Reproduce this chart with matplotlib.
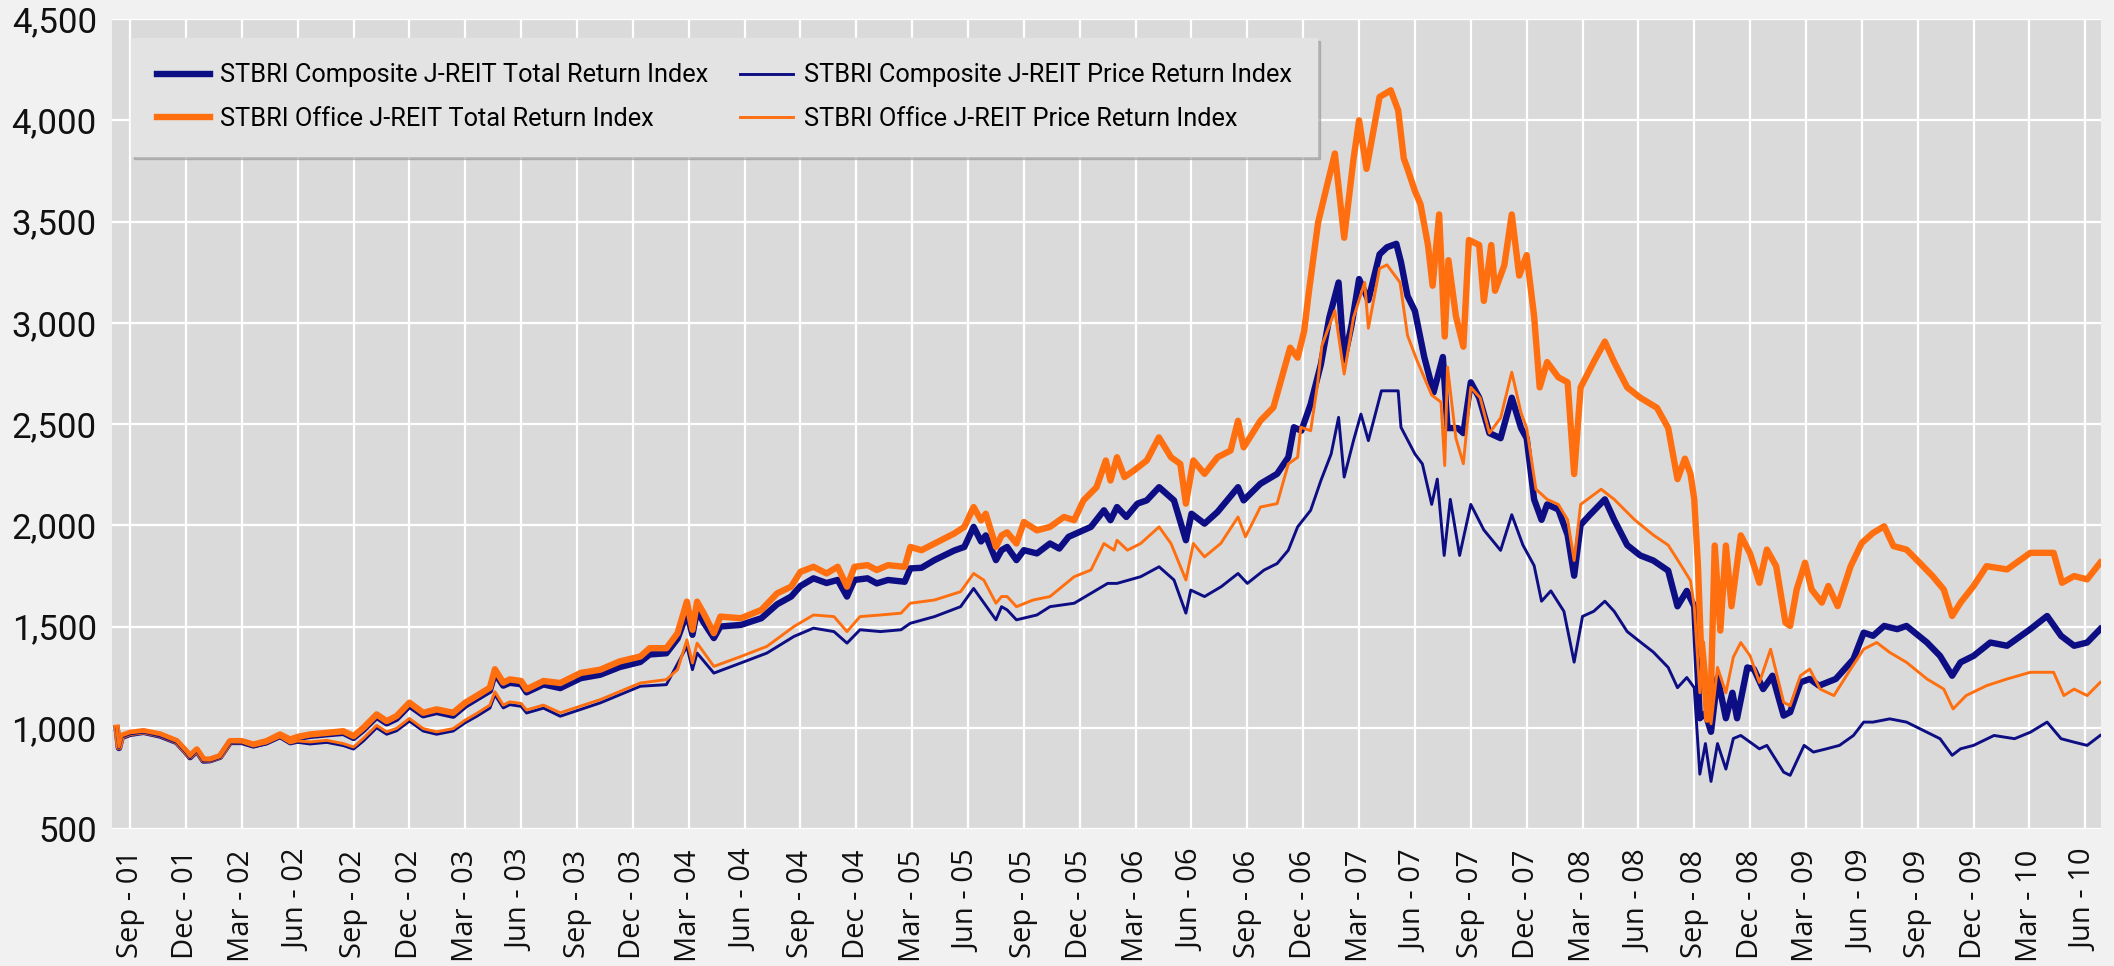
import matplotlib
matplotlib.use("Agg")
import matplotlib.pyplot as plt
from matplotlib.ticker import FuncFormatter

NAVY = "#0e0e84"
ORANGE = "#ff6f10"

# x = months after Sep 2001 (0 = Sep-01 gridline), y = index level
comp_total = [
    (-0.72, 995), (-0.6, 900), (-0.45, 955), (0, 970), (0.72, 980), (1.61, 962),
    (2.5, 930), (3.0, 880), (3.22, 855), (3.58, 888), (3.94, 838), (4.29, 840),
    (4.83, 857), (5.37, 930), (6.0, 930), (6.62, 913), (7.33, 930), (8.05, 962),
    (8.59, 938), (9.0, 950), (9.66, 960), (10.56, 968), (11.45, 975), (12.0, 950),
    (12.53, 990), (13.24, 1055), (13.78, 1022), (14.31, 1045), (15.0, 1110),
    (15.74, 1062), (16.46, 1078), (17.35, 1060), (18.0, 1110), (18.6, 1143),
    (19.32, 1183), (19.59, 1270), (20.04, 1208), (20.39, 1222), (21.0, 1215),
    (21.29, 1175), (22.2, 1214), (23.1, 1196), (24.2, 1245), (25.25, 1262),
    (26.3, 1300), (27.4, 1325), (27.9, 1362), (28.8, 1368), (29.4, 1440),
    (29.9, 1566), (30.2, 1459), (30.45, 1580), (30.8, 1520), (31.35, 1443),
    (31.7, 1500), (32.8, 1508), (33.9, 1541), (34.75, 1610), (35.5, 1648),
    (36.0, 1700), (36.7, 1738), (37.4, 1715), (38.0, 1730), (38.5, 1648),
    (38.9, 1730), (39.6, 1738), (40.1, 1713), (40.7, 1730), (41.6, 1721),
    (41.9, 1787), (42.5, 1790), (43.2, 1828), (44.25, 1875), (44.8, 1893),
    (45.3, 1992), (45.7, 1920), (45.95, 1950), (46.5, 1828), (46.8, 1877),
    (47.1, 1893), (47.6, 1828), (48.0, 1877), (48.7, 1861), (49.4, 1910),
    (49.9, 1885), (50.4, 1943), (51.6, 1992), (52.3, 2074), (52.65, 2025),
    (53.0, 2090), (53.5, 2041), (54.1, 2107), (54.6, 2123), (55.26, 2188),
    (56.06, 2123), (56.7, 1926), (57.0, 2057), (57.7, 2008), (58.4, 2066),
    (59.5, 2188), (59.8, 2123), (60.7, 2205), (61.6, 2254), (62.2, 2336),
    (62.5, 2484), (62.9, 2467), (63.4, 2598), (63.95, 2795), (64.4, 3025),
    (64.9, 3199), (65.2, 2816), (65.6, 2990), (66.0, 3216), (66.5, 3112),
    (67.1, 3338), (67.5, 3373), (68.0, 3390), (68.25, 3300), (68.6, 3133),
    (69.0, 3058), (69.5, 2831), (70.0, 2656), (70.5, 2831), (70.75, 2480),
    (71.3, 2480), (71.6, 2455), (72.0, 2706), (72.45, 2630), (73.0, 2455),
    (73.6, 2430), (74.2, 2630), (74.7, 2480), (75.0, 2430), (75.4, 2128),
    (75.8, 2027), (76.1, 2103), (76.7, 2078), (77.2, 1952), (77.55, 1751),
    (77.9, 2002), (78.4, 2052), (79.2, 2128), (79.7, 2027), (80.4, 1902),
    (81.1, 1851), (81.8, 1826), (82.6, 1776), (83.1, 1600), (83.6, 1676),
    (84.0, 1600), (84.3, 1047), (84.6, 1072), (84.9, 980), (85.25, 1248),
    (85.7, 1047), (86.05, 1173), (86.3, 1047), (86.85, 1298), (87.2, 1290),
    (87.7, 1191), (88.2, 1257), (88.8, 1060), (89.15, 1077), (89.7, 1224),
    (90.2, 1241), (90.7, 1208), (91.6, 1241), (92.55, 1339), (93.1, 1470),
    (93.6, 1454), (94.2, 1503), (94.9, 1487), (95.4, 1503), (96.5, 1421),
    (97.2, 1355), (97.85, 1257), (98.3, 1323), (99.0, 1355), (99.9, 1421),
    (100.8, 1405), (102.05, 1487), (102.95, 1552), (103.7, 1454), (104.4, 1405),
    (105.1, 1421), (105.8, 1487),
]

comp_price = [
    (-0.72, 995), (-0.6, 900), (-0.45, 955), (0, 970), (0.72, 978), (1.61, 960),
    (2.5, 928), (3.0, 878), (3.22, 853), (3.58, 886), (3.94, 836), (4.29, 836),
    (4.83, 853), (5.37, 925), (6.0, 925), (6.62, 906), (7.33, 920), (8.05, 950),
    (8.59, 920), (9.0, 928), (9.66, 920), (10.56, 928), (11.45, 912), (12.0, 895),
    (12.53, 935), (13.24, 1000), (13.78, 968), (14.31, 985), (15.0, 1033),
    (15.74, 984), (16.46, 968), (17.35, 984), (18.0, 1025), (18.6, 1056),
    (19.32, 1097), (19.59, 1163), (20.04, 1098), (20.39, 1114), (21.0, 1106),
    (21.29, 1073), (22.2, 1097), (23.1, 1057), (25.25, 1123), (27.4, 1205),
    (28.8, 1213), (29.9, 1402), (30.2, 1287), (30.45, 1369), (31.35, 1270),
    (32.8, 1320), (34.2, 1369), (35.65, 1451), (36.7, 1492), (37.8, 1475),
    (38.5, 1418), (39.2, 1484), (40.3, 1475), (41.4, 1484), (41.9, 1516),
    (43.2, 1549), (44.6, 1598), (45.3, 1688), (46.5, 1533), (46.8, 1598),
    (47.1, 1582), (47.6, 1533), (48.7, 1557), (49.4, 1598), (50.7, 1615),
    (51.6, 1664), (52.5, 1713), (53.0, 1713), (54.27, 1746), (55.26, 1795),
    (56.06, 1730), (56.7, 1566), (56.96, 1680), (57.7, 1648), (58.6, 1697),
    (59.5, 1762), (60.0, 1713), (60.9, 1779), (61.6, 1811), (62.2, 1877),
    (62.7, 1992), (63.4, 2074), (63.95, 2221), (64.5, 2352), (64.9, 2533),
    (65.2, 2238), (65.7, 2418), (66.1, 2549), (66.5, 2418), (67.2, 2664),
    (68.1, 2664), (68.25, 2484), (69.0, 2352), (69.4, 2303), (69.9, 2103),
    (70.2, 2228), (70.57, 1851), (70.9, 2128), (71.4, 1851), (72.0, 2103),
    (72.7, 1977), (73.6, 1876), (74.2, 2052), (74.8, 1902), (75.4, 1801),
    (75.8, 1625), (76.3, 1676), (77.0, 1575), (77.55, 1324), (78.0, 1550),
    (78.6, 1575), (79.2, 1625), (79.7, 1575), (80.4, 1475), (81.1, 1424),
    (81.8, 1374), (82.6, 1298), (83.1, 1198), (83.6, 1248), (84.0, 1198),
    (84.3, 771), (84.6, 922), (84.9, 735), (85.25, 922), (85.7, 796),
    (86.1, 947), (86.5, 962), (87.0, 929), (87.5, 896), (87.9, 913),
    (88.8, 781), (89.15, 765), (89.9, 913), (90.4, 880), (91.1, 896),
    (91.8, 913), (92.55, 962), (93.1, 1028), (93.6, 1028), (94.5, 1044),
    (95.4, 1028), (96.5, 978), (97.2, 946), (97.85, 864), (98.3, 896),
    (99.0, 913), (100.1, 962), (101.2, 946), (102.05, 978), (102.95, 1028),
    (103.7, 946), (104.4, 929), (105.1, 913), (105.8, 962),
]

office_total = [
    (-0.72, 1000), (-0.6, 905), (-0.45, 960), (0, 975), (0.72, 983), (1.61, 967),
    (2.5, 934), (3.0, 884), (3.22, 860), (3.58, 893), (3.94, 843), (4.29, 843),
    (4.83, 860), (5.37, 934), (6.0, 934), (6.62, 917), (7.33, 934), (8.05, 967),
    (8.59, 942), (9.0, 955), (9.66, 967), (10.56, 975), (11.45, 983), (12.0, 959),
    (12.53, 1000), (13.24, 1066), (13.78, 1033), (14.31, 1058), (15.0, 1124),
    (15.74, 1074), (16.46, 1091), (17.35, 1074), (18.0, 1124), (18.6, 1157),
    (19.32, 1198), (19.59, 1289), (20.04, 1223), (20.39, 1239), (21.0, 1231),
    (21.29, 1190), (22.2, 1231), (23.1, 1221), (24.2, 1271), (25.25, 1287),
    (26.3, 1328), (27.4, 1352), (27.9, 1393), (28.8, 1393), (29.4, 1467),
    (29.9, 1623), (30.2, 1484), (30.45, 1623), (30.8, 1566), (31.35, 1467),
    (31.7, 1549), (32.8, 1541), (33.9, 1582), (34.75, 1664), (35.5, 1697),
    (36.0, 1770), (36.7, 1795), (37.4, 1762), (38.0, 1795), (38.5, 1697),
    (38.9, 1795), (39.6, 1803), (40.1, 1779), (40.7, 1803), (41.6, 1795),
    (41.9, 1893), (42.5, 1877), (43.2, 1910), (44.25, 1959), (44.8, 1992),
    (45.3, 2090), (45.7, 2024), (45.95, 2057), (46.5, 1893), (46.8, 1950),
    (47.1, 1965), (47.6, 1910), (48.0, 2016), (48.7, 1975), (49.4, 1992),
    (50.15, 2041), (50.7, 2025), (51.2, 2123), (51.9, 2188), (52.4, 2320),
    (52.65, 2221), (53.0, 2336), (53.4, 2238), (53.9, 2270), (54.6, 2320),
    (55.25, 2434), (55.9, 2336), (56.4, 2303), (56.7, 2107), (57.1, 2320),
    (57.7, 2254), (58.4, 2336), (59.1, 2369), (59.5, 2516), (59.8, 2385),
    (60.7, 2516), (61.4, 2582), (61.8, 2713), (62.3, 2877), (62.7, 2828),
    (63.05, 2959), (63.3, 3150), (63.8, 3495), (64.3, 3686), (64.7, 3836),
    (65.2, 3420), (65.7, 3808), (66.0, 4000), (66.4, 3760), (67.1, 4115),
    (67.7, 4148), (68.1, 4049), (68.4, 3812), (68.6, 3761), (69.0, 3650),
    (69.3, 3585), (69.7, 3384), (69.95, 3183), (70.3, 3535), (70.6, 2932),
    (70.8, 3309), (71.2, 3033), (71.6, 2882), (71.9, 3409), (72.45, 3384),
    (72.7, 3108), (73.1, 3384), (73.3, 3158), (73.8, 3284), (74.2, 3535),
    (74.6, 3233), (75.0, 3334), (75.4, 3033), (75.7, 2681), (76.1, 2806),
    (76.7, 2731), (77.2, 2706), (77.55, 2253), (77.9, 2681), (78.6, 2806),
    (79.2, 2907), (79.7, 2806), (80.4, 2681), (81.1, 2630), (82.0, 2580),
    (82.6, 2480), (83.1, 2228), (83.5, 2329), (83.8, 2253), (84.0, 2128),
    (84.2, 1801), (84.35, 1424), (84.5, 1300), (84.7, 1040), (84.9, 1200),
    (85.1, 1900), (85.4, 1480), (85.7, 1900), (86.0, 1600), (86.5, 1950),
    (87.0, 1860), (87.5, 1716), (87.9, 1880), (88.4, 1798), (88.9, 1519),
    (89.15, 1503), (89.5, 1683), (89.95, 1815), (90.3, 1683), (90.85, 1618),
    (91.2, 1700), (91.7, 1601), (92.4, 1798), (93.0, 1913), (93.6, 1962),
    (94.2, 1995), (94.7, 1897), (95.4, 1880), (96.1, 1815), (96.8, 1749),
    (97.4, 1683), (97.85, 1552), (98.3, 1618), (99.0, 1700), (99.7, 1798),
    (100.8, 1782), (102.05, 1864), (103.3, 1864), (103.75, 1716), (104.4, 1749),
    (105.1, 1733), (105.8, 1815),
]

office_price = [
    (-0.72, 1000), (-0.6, 905), (-0.45, 960), (0, 975), (0.72, 982), (1.61, 966),
    (2.5, 933), (3.0, 883), (3.22, 858), (3.58, 891), (3.94, 841), (4.29, 840),
    (4.83, 857), (5.37, 930), (6.0, 929), (6.62, 910), (7.33, 925), (8.05, 955),
    (8.59, 925), (9.0, 935), (9.66, 930), (10.56, 938), (11.45, 922), (12.0, 905),
    (12.53, 948), (13.24, 1012), (13.78, 980), (14.31, 997), (15.0, 1046),
    (15.74, 996), (16.46, 980), (17.35, 996), (18.0, 1038), (18.6, 1070),
    (19.32, 1112), (19.59, 1178), (20.04, 1112), (20.39, 1128), (21.0, 1120),
    (21.29, 1088), (22.2, 1112), (23.1, 1074), (25.25, 1139), (27.4, 1221),
    (28.8, 1238), (29.4, 1287), (29.9, 1434), (30.2, 1320), (30.45, 1418),
    (31.35, 1303), (32.8, 1352), (34.2, 1402), (35.65, 1500), (36.7, 1557),
    (37.8, 1549), (38.5, 1475), (39.2, 1549), (40.3, 1557), (41.4, 1566),
    (41.9, 1615), (43.2, 1631), (44.6, 1672), (45.3, 1762), (45.85, 1729),
    (46.5, 1615), (46.8, 1648), (47.1, 1648), (47.6, 1598), (48.5, 1631),
    (49.4, 1648), (50.7, 1746), (51.6, 1779), (52.3, 1910), (52.84, 1877),
    (53.0, 1926), (53.56, 1877), (54.27, 1910), (55.26, 1992), (55.9, 1910),
    (56.7, 1730), (57.1, 1910), (57.7, 1844), (58.57, 1910), (59.5, 2041),
    (59.9, 1943), (60.7, 2090), (61.6, 2107), (62.2, 2303), (62.7, 2336),
    (62.87, 2484), (63.4, 2467), (63.77, 2697), (64.0, 2886), (64.7, 3060),
    (65.2, 2747), (65.7, 3025), (66.3, 3199), (66.5, 2973), (67.1, 3268),
    (67.5, 3286), (68.2, 3199), (68.6, 2938), (69.1, 2816), (69.9, 2643),
    (70.4, 2608), (70.6, 2295), (70.75, 2781), (71.2, 2430), (71.6, 2304),
    (72.0, 2681), (72.5, 2630), (73.0, 2455), (73.6, 2530), (74.2, 2756),
    (74.7, 2555), (75.0, 2480), (75.5, 2178), (76.1, 2128), (76.7, 2103),
    (77.2, 2027), (77.55, 1826), (77.9, 2103), (79.0, 2178), (79.7, 2128),
    (80.8, 2027), (81.8, 1952), (82.6, 1902), (83.3, 1801), (83.8, 1726),
    (84.0, 1600), (84.3, 1173), (84.5, 1424), (84.9, 1020), (85.25, 1298),
    (85.7, 1173), (86.1, 1349), (86.5, 1421), (87.0, 1355), (87.5, 1224),
    (88.1, 1388), (88.8, 1126), (89.15, 1109), (89.7, 1257), (90.2, 1290),
    (90.76, 1191), (91.5, 1159), (92.4, 1290), (93.1, 1388), (93.8, 1421),
    (94.5, 1372), (95.4, 1323), (96.5, 1241), (97.4, 1191), (97.9, 1093),
    (98.6, 1159), (99.7, 1208), (100.8, 1241), (102.05, 1274), (103.3, 1274),
    (103.85, 1159), (104.4, 1191), (105.1, 1159), (105.8, 1224),
]

tick_labels = [
    "Sep - 01", "Dec - 01", "Mar - 02", "Jun - 02", "Sep - 02", "Dec - 02",
    "Mar - 03", "Jun - 03", "Sep - 03", "Dec - 03", "Mar - 04", "Jun - 04",
    "Sep - 04", "Dec - 04", "Mar - 05", "Jun - 05", "Sep - 05", "Dec - 05",
    "Mar - 06", "Jun - 06", "Sep - 06", "Dec - 06", "Mar - 07", "Jun - 07",
    "Sep - 07", "Dec - 07", "Mar - 08", "Jun - 08", "Sep - 08", "Dec - 08",
    "Mar - 09", "Jun - 09", "Sep - 09", "Dec - 09", "Mar - 10", "Jun - 10",
]
y_ticks = [500, 1000, 1500, 2000, 2500, 3000, 3500, 4000, 4500]

series = [
    ("STBRI Composite J-REIT Total Return Index", comp_total, NAVY, 4.6),
    ("STBRI Office J-REIT Total Return Index", office_total, ORANGE, 4.6),
    ("STBRI Composite J-REIT Price Return Index", comp_price, NAVY, 2.1),
    ("STBRI Office J-REIT Price Return Index", office_price, ORANGE, 2.1),
]
draw_order = [0, 2, 1, 3]

font = ["Roboto", "DejaVu Sans"]

fig = plt.figure(figsize=(21.14, 9.66), dpi=100, facecolor="#f1f1f1")
ax = fig.add_axes([0.053, 0.1418, 0.9409, 0.8385])
ax.set_facecolor("#dadada")

lines = {}
for i in draw_order:
    label, pts, color, lw = series[i]
    xs = [p[0] for p in pts]
    ys = [p[1] for p in pts]
    (ln,) = ax.plot(xs, ys, color=color, lw=lw, label=label,
                    solid_joinstyle="round", zorder=3 + i * 0.1)
    lines[i] = ln

ax.set_xlim(-0.97, 105.85)
ax.set_ylim(500, 4500)
ax.set_xticks([3 * k for k in range(len(tick_labels))])
ax.set_xticklabels(tick_labels, rotation=90, fontsize=21,
                   family=["Open Sans", "DejaVu Sans"], va="top")
ax.set_yticks(y_ticks)
ax.yaxis.set_major_formatter(FuncFormatter(lambda v, p: f"{int(v):,}"))
for t in ax.get_yticklabels():
    t.set_family(font)
    t.set_fontsize(25)
ax.tick_params(axis="x", length=0, pad=15, colors="#111111")
ax.tick_params(axis="y", length=0, pad=11, colors="#111111")
ax.grid(True, color="white", lw=1.6, zorder=1)
ax.set_axisbelow(True)
for s in ax.spines.values():
    s.set_visible(False)

handles = [lines[i] for i in range(4)]
leg = ax.legend(handles, [s[0] for s in series], ncol=2, loc="upper left",
                bbox_to_anchor=(0.0096, 0.9765), borderaxespad=0,
                prop={"family": font, "size": 18.3},
                frameon=True, fancybox=False, facecolor="#e3e3e3",
                edgecolor="#e3e3e3", framealpha=1,
                shadow={"color": "#9a9a9a", "alpha": 0.6},
                handlelength=2.1, handletextpad=0.4, columnspacing=1.25,
                labelspacing=0.75, borderpad=1.0)
leg.set_zorder(10)

fig.savefig("out.png", dpi=100, facecolor=fig.get_facecolor())
